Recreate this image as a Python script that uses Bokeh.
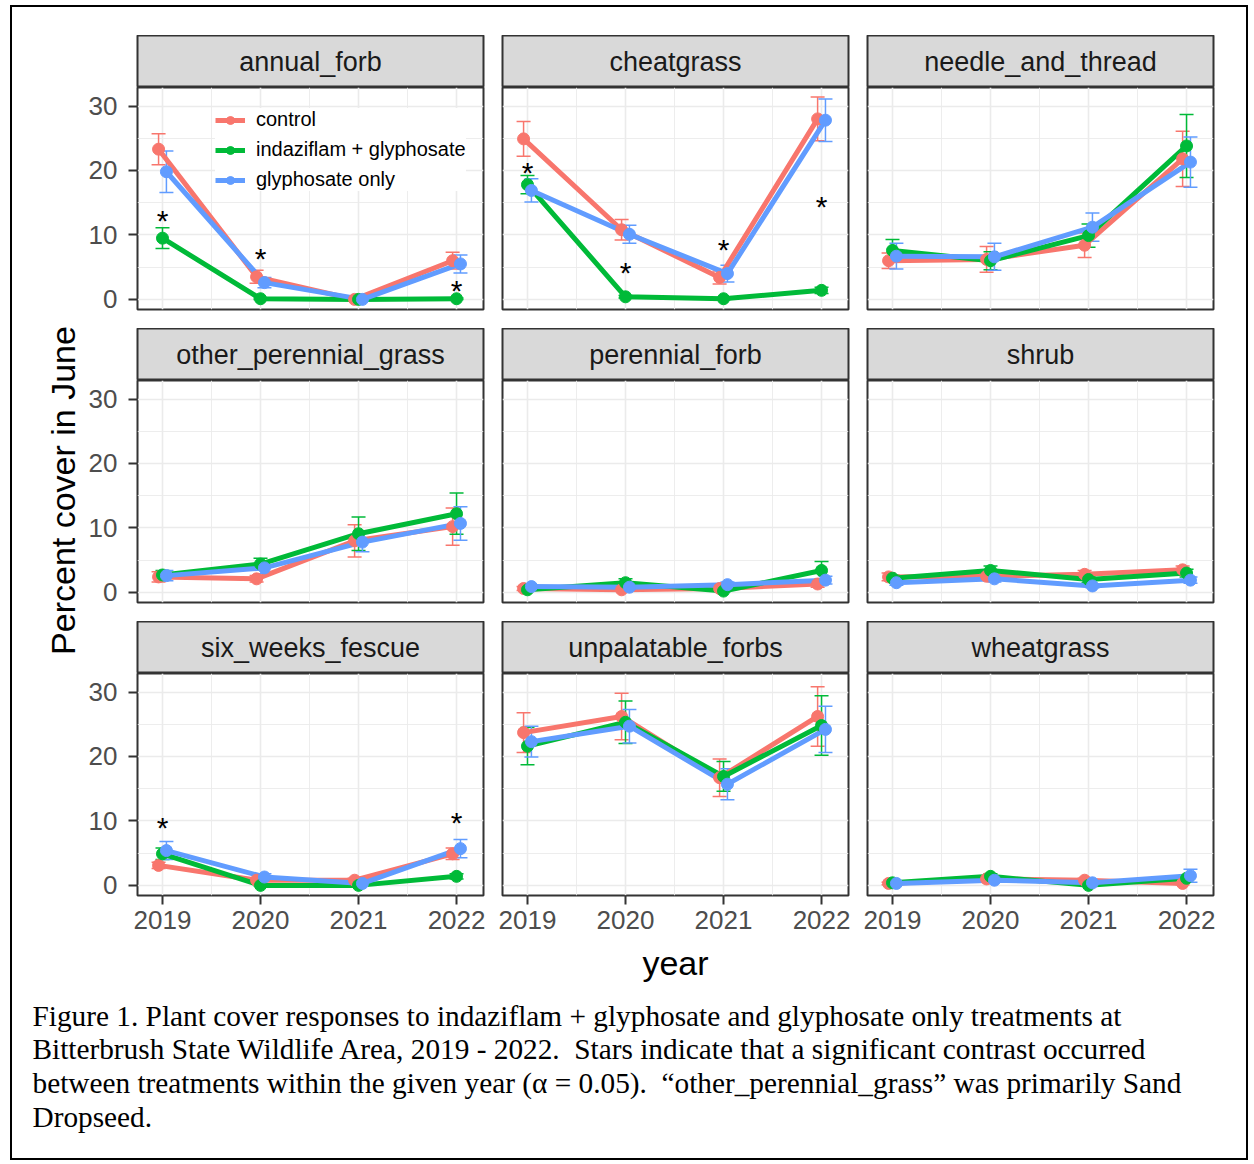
from bokeh.plotting import figure
from bokeh.models import (Range1d, FixedTicker, ColumnDataSource, Whisker, TeeHead,
                          Legend, LegendItem, Spacer)
from bokeh.layouts import row, column
from bokeh.embed import file_html
from bokeh.resources import INLINE
from bokeh.core.properties import value
import math

# ---------------- data ----------------
years = [2019, 2020, 2021, 2022]
panels = ["annual_forb", "cheatgrass", "needle_and_thread",
          "other_perennial_grass", "perennial_forb", "shrub",
          "six_weeks_fescue", "unpalatable_forbs", "wheatgrass"]
treatments = ["control", "indaziflam + glyphosate", "glyphosate only"]

mean_control = {
    "annual_forb": [23.3, 3.5, 0.0, 6.0],
    "cheatgrass": [24.9, 10.8, 3.4, 28.0],
    "needle_and_thread": [6.0, 6.2, 8.4, 21.8],
    "other_perennial_grass": [2.4, 2.1, 8.0, 10.2],
    "perennial_forb": [0.6, 0.4, 0.6, 1.3],
    "shrub": [2.4, 2.5, 2.8, 3.5],
    "six_weeks_fescue": [3.1, 0.8, 0.8, 4.9],
    "unpalatable_forbs": [23.7, 26.2, 16.7, 26.2],
    "wheatgrass": [0.3, 1.0, 0.8, 0.3],
}
se_control = {
    "annual_forb": [2.4, 1.0, 0.2, 1.3],
    "cheatgrass": [2.7, 1.6, 1.0, 3.4],
    "needle_and_thread": [1.2, 2.0, 1.9, 4.3],
    "other_perennial_grass": [0.8, 0.5, 2.5, 2.9],
    "perennial_forb": [0.3, 0.2, 0.3, 0.5],
    "shrub": [0.6, 0.6, 0.6, 0.6],
    "six_weeks_fescue": [0.5, 0.3, 0.3, 0.9],
    "unpalatable_forbs": [3.1, 3.6, 2.9, 4.6],
    "wheatgrass": [0.2, 0.3, 0.3, 0.2],
}
mean_indaziflam = {
    "annual_forb": [9.5, 0.1, 0.0, 0.1],
    "cheatgrass": [17.8, 0.4, 0.1, 1.4],
    "needle_and_thread": [7.6, 6.0, 9.9, 23.8],
    "other_perennial_grass": [2.7, 4.4, 9.1, 12.2],
    "perennial_forb": [0.4, 1.5, 0.2, 3.4],
    "shrub": [2.2, 3.4, 2.0, 3.0],
    "six_weeks_fescue": [4.9, 0.0, 0.0, 1.4],
    "unpalatable_forbs": [21.6, 25.3, 16.9, 24.8],
    "wheatgrass": [0.4, 1.4, 0.0, 1.1],
}
se_indaziflam = {
    "annual_forb": [1.6, 0.1, 0.0, 0.1],
    "cheatgrass": [1.4, 0.2, 0.1, 0.5],
    "needle_and_thread": [1.7, 1.4, 1.8, 4.9],
    "other_perennial_grass": [0.7, 0.9, 2.6, 3.2],
    "perennial_forb": [0.2, 0.6, 0.1, 1.4],
    "shrub": [0.5, 0.7, 0.5, 0.6],
    "six_weeks_fescue": [0.9, 0.1, 0.0, 0.4],
    "unpalatable_forbs": [2.9, 3.3, 2.3, 4.6],
    "wheatgrass": [0.2, 0.4, 0.1, 0.4],
}
mean_glyphosate = {
    "annual_forb": [19.8, 2.6, 0.0, 5.5],
    "cheatgrass": [16.9, 10.1, 4.0, 27.8],
    "needle_and_thread": [6.7, 6.6, 11.2, 21.3],
    "other_perennial_grass": [2.6, 3.8, 7.8, 10.7],
    "perennial_forb": [0.9, 0.8, 1.2, 1.9],
    "shrub": [1.5, 2.1, 1.0, 1.9],
    "six_weeks_fescue": [5.4, 1.3, 0.3, 5.7],
    "unpalatable_forbs": [22.3, 24.7, 15.7, 24.2],
    "wheatgrass": [0.3, 0.8, 0.4, 1.5],
}
se_glyphosate = {
    "annual_forb": [3.2, 0.8, 0.2, 1.4],
    "cheatgrass": [1.8, 1.4, 1.3, 3.3],
    "needle_and_thread": [2.0, 2.1, 2.2, 3.9],
    "other_perennial_grass": [0.8, 0.9, 1.5, 2.6],
    "perennial_forb": [0.3, 0.3, 0.4, 0.6],
    "shrub": [0.4, 0.5, 0.3, 0.5],
    "six_weeks_fescue": [1.4, 0.5, 0.2, 1.4],
    "unpalatable_forbs": [2.4, 2.6, 2.4, 3.6],
    "wheatgrass": [0.2, 0.3, 0.2, 1.0],
}

star_panel = ["annual_forb", "annual_forb", "annual_forb",
              "cheatgrass", "cheatgrass", "cheatgrass", "cheatgrass",
              "six_weeks_fescue", "six_weeks_fescue"]
star_year = [2019, 2020, 2022, 2019, 2020, 2021, 2022, 2019, 2022]
star_y = [13.3, 7.5, 2.4, 20.8, 5.2, 8.9, 15.5, 10.0, 10.8]

y_ticks = [0, 10, 20, 30]
caption_lines = [
    "Figure 1. Plant cover responses to indaziflam + glyphosate and glyphosate only treatments at",
    "Bitterbrush State Wildlife Area, 2019 - 2022.\u00a0 Stars indicate that a significant contrast occurred",
    "between treatments within the given year (\u03b1 = 0.05).\u00a0 \u201cother_perennial_grass\u201d was primarily Sand",
    "Dropseed.",
]

# ---------------- styling ----------------
means = [mean_control, mean_indaziflam, mean_glyphosate]
ses = [se_control, se_indaziflam, se_glyphosate]
colors = ["#F8766D", "#00BA38", "#619CFF"]
dodge = [-0.04, 0.0, 0.04]
FONT = "Liberation Sans"
SERIF = "Liberation Serif"
FRAME_W, FRAME_H = 346, 222
STRIP_H = 52
PAD_B = 10
GAP = 9
TOP = 28
XAX_H = 46
Y_AX_W = 54


def border_lr(col):
    return (Y_AX_W if col == 0 else 10), 9


def make_strip(name, col):
    left, right = border_lr(col)
    s = figure(width=left + FRAME_W + right, height=STRIP_H,
               x_range=Range1d(0, 1), y_range=Range1d(0, 1),
               x_axis_type=None, y_axis_type=None,
               output_backend="svg", toolbar_location=None,
               min_border_left=left, min_border_right=right,
               min_border_top=0, min_border_bottom=0)
    s.background_fill_color = "#D9D9D9"
    s.border_fill_color = "white"
    s.outline_line_color = "#333333"
    s.outline_line_width = 2
    s.text(x=[0.5], y=[0.5], text=[name], text_align="center",
           text_baseline="middle", text_font=value(FONT),
           text_font_size="27px", text_color="#1A1A1A")
    return s


def make_panel(name, col, rowi):
    left, right = border_lr(col)
    bottom = XAX_H if rowi == 2 else PAD_B
    p = figure(width=left + FRAME_W + right, height=FRAME_H + bottom,
               x_range=Range1d(2018.745, 2022.275),
               y_range=Range1d(-1.57, 32.87),
               output_backend="svg", toolbar_location=None,
               min_border_left=left, min_border_right=right,
               min_border_top=0, min_border_bottom=bottom)
    p.background_fill_color = "white"
    p.border_fill_color = "white"
    p.outline_line_color = "#333333"
    p.outline_line_width = 2

    xt = FixedTicker(ticks=years, minor_ticks=[2019.5, 2020.5, 2021.5])
    yt = FixedTicker(ticks=y_ticks, minor_ticks=[5, 15, 25])
    p.xaxis.ticker = xt
    p.yaxis.ticker = yt
    p.xgrid.ticker = xt
    p.ygrid.ticker = yt
    for g in (p.xgrid, p.ygrid):
        g.grid_line_color = "#EBEBEB"
        g.grid_line_width = 1.6
        g.minor_grid_line_color = "#EBEBEB"
        g.minor_grid_line_width = 0.9
    for ax in (p.xaxis, p.yaxis):
        ax.axis_line_color = None
        ax.major_tick_line_color = "#333333"
        ax.major_tick_line_width = 2
        ax.major_tick_out = 9
        ax.major_tick_in = 0
        ax.minor_tick_line_color = None
        ax.major_label_text_font = FONT
        ax.major_label_text_font_size = "26px"
        ax.major_label_text_color = "#4D4D4D"
    p.yaxis.major_label_standoff = 11
    p.xaxis.major_label_standoff = 6
    p.xaxis.visible = (rowi == 2)
    p.yaxis.visible = (col == 0)

    # error bars
    for k in range(3):
        xs = [yr + dodge[k] for yr in years]
        m = means[k][name]
        e = ses[k][name]
        src = ColumnDataSource(dict(x=xs, lower=[a - b for a, b in zip(m, e)],
                                    upper=[a + b for a, b in zip(m, e)]))
        w = Whisker(base="x", lower="lower", upper="upper", source=src,
                    line_color=colors[k], line_width=1.5,
                    upper_head=TeeHead(size=14, line_color=colors[k], line_width=1.5),
                    lower_head=TeeHead(size=14, line_color=colors[k], line_width=1.5))
        p.add_layout(w)
    line_rs, pt_rs = [], []
    for k in range(3):
        xs = [yr + dodge[k] for yr in years]
        line_rs.append(p.line(xs, means[k][name], line_color=colors[k], line_width=5))
    for k in range(3):
        xs = [yr + dodge[k] for yr in years]
        pt_rs.append(p.scatter(xs, means[k][name], size=12, marker="circle",
                               fill_color=colors[k], line_color=colors[k]))

    # stars
    sx = [star_year[i] for i in range(len(star_panel)) if star_panel[i] == name]
    sy = [star_y[i] for i in range(len(star_panel)) if star_panel[i] == name]
    if sx:
        p.text(x=sx, y=sy, text=["*"] * len(sx), text_align="center",
               text_baseline="middle", text_font=value(FONT),
               text_font_size="30px", text_color="black", y_offset=7)

    if name == "annual_forb":
        items = [LegendItem(label=treatments[k], renderers=[line_rs[k], pt_rs[k]])
                 for k in range(3)]
        lg = Legend(items=items, location=(78, 118))
        lg.background_fill_color = "white"
        lg.background_fill_alpha = 1.0
        lg.border_line_color = None
        lg.label_text_font = FONT
        lg.label_text_font_size = "20px"
        lg.label_text_color = "black"
        lg.glyph_width = 30
        lg.glyph_height = 20
        lg.label_height = 20
        lg.label_standoff = 11
        lg.spacing = 7
        lg.padding = 7
        lg.margin = 0
        p.add_layout(lg, "center")
    return p


columns = []
for c in range(3):
    left, right = border_lr(c)
    w = left + FRAME_W + right
    kids = [Spacer(width=w, height=TOP)]
    for r in range(3):
        name = panels[r * 3 + c]
        if r > 0:
            kids.append(Spacer(width=w, height=GAP))
        kids.append(make_strip(name, c))
        kids.append(make_panel(name, c, r))
    columns.append(column(kids, spacing=0))

MAIN_H = TOP + 3 * (STRIP_H + FRAME_H) + 2 * (PAD_B + GAP) + XAX_H
INNER_W = 1234
YT_W = 137 - 12 - Y_AX_W

yt_fig = figure(width=YT_W, height=MAIN_H, x_range=Range1d(0, YT_W),
                y_range=Range1d(0, MAIN_H), x_axis_type=None, y_axis_type=None,
                output_backend="svg", toolbar_location=None, min_border=0)
yt_fig.outline_line_color = None
yt_fig.text(x=[50], y=[MAIN_H - 483], text=["Percent cover in June"],
            angle=math.pi / 2, text_align="center", text_baseline="middle",
            text_font=value(FONT), text_font_size="34px", text_color="black")

used = YT_W + sum(border_lr(c)[0] + FRAME_W + border_lr(c)[1] for c in range(3))
top_row = row([yt_fig] + columns + [Spacer(width=INNER_W - used, height=MAIN_H)], spacing=0)

YEAR_H = 990 - 7 - MAIN_H
year_fig = figure(width=INNER_W, height=YEAR_H, x_range=Range1d(0, INNER_W),
                  y_range=Range1d(YEAR_H, 0), x_axis_type=None, y_axis_type=None,
                  output_backend="svg", toolbar_location=None, min_border=0)
year_fig.outline_line_color = None
year_fig.text(x=[663], y=[962 - 7 - MAIN_H], text=["year"], text_align="center",
              text_baseline="middle", text_font=value(FONT),
              text_font_size="34px", text_color="black")

CAP_TOP = 990
CAP_H = 1158 - CAP_TOP
cap_fig = figure(width=INNER_W, height=CAP_H, x_range=Range1d(0, INNER_W),
                 y_range=Range1d(CAP_H, 0), x_axis_type=None, y_axis_type=None,
                 output_backend="svg", toolbar_location=None, min_border=0)
cap_fig.outline_line_color = None
cap_fig.text(x=[20] * len(caption_lines),
             y=[1015 - CAP_TOP, 1048 - CAP_TOP, 1082 - CAP_TOP, 1116 - CAP_TOP],
             text=caption_lines,
             text_align="left", text_baseline="middle", text_font=value(SERIF),
             text_font_size="29.3px", text_color="black")

root = column([top_row, year_fig, cap_fig], spacing=0, margin=(5, 0, 0, 10),
              styles={"border": "2px solid black"})

open("out.html", "w").write(file_html(root, INLINE, title="Plant cover"))
